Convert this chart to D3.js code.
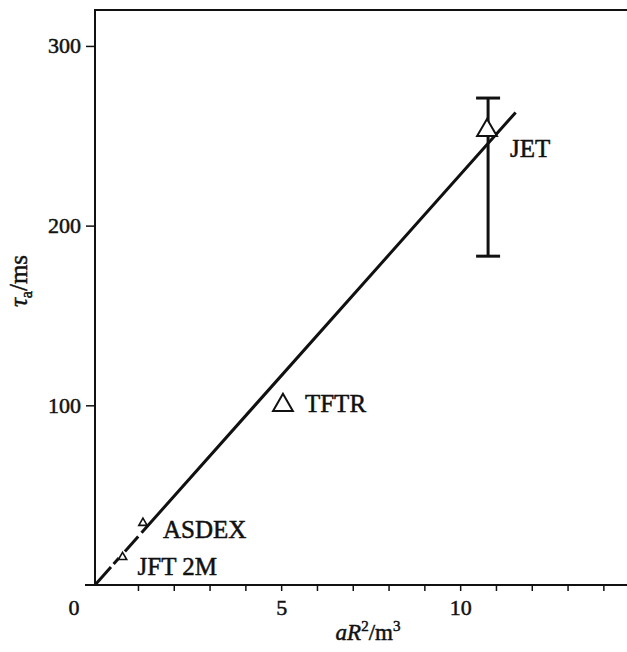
<!DOCTYPE html>
<html>
<head>
<meta charset="utf-8">
<script src="https://cdn.jsdelivr.net/npm/d3@7"></script>
<style>
  body { margin: 0; background: #fff; }
  svg { display: block; }
  text { font-family: "Liberation Serif", "DejaVu Serif", serif; fill: #111; stroke: #111; stroke-width: 0.5px; }
</style>
</head>
<body>
<svg></svg>
<script>
// machines
let names = ['JFT 2M', 'ASDEX', 'TFTR', 'JET']
let aR2 = [0.57, 1.14, 5.05, 10.75]        // m^3
let tauA = [15.5, 34.5, 100, 253]           // ms
let big = [false, false, true, true]

// JET error bar
let errX = [10.78]
let errLow = [183]
let errHigh = [271]

// fitted line ends
let fitX = [-0.2, 11.55]
let fitY = [0, 263]

let xTicks = [1, 2, 3, 4, 5, 6, 7, 8, 9, 10, 11, 12, 13, 14, 15]
let xTickLabels = [5, 10]
let yTicks = [100, 200, 300]

let width = 627
let height = 652

// label offsets (px) from the marker
let labelOffset = {
    'JFT 2M': [15, 18],
    'ASDEX': [20, 15],
    'TFTR': [22, 7],
    'JET': [23, 27]
}

let svg = d3.select('svg')
    .attr('width', width)
    .attr('height', height)

let xScale = d3.scaleLinear()
    .domain([-0.2, 15])
    .range([95, 95 + 15.2 * 35.8])

let yScale = d3.scaleLinear()
    .domain([0, 320])
    .range([585, 10])

let plotLeft = xScale(-0.2)
let plotBottom = yScale(0)
let plotTop = yScale(320)

// frame: left axis, top border, bottom axis
svg.append('path')
    .attr('d', 'M' + (width + 5) + ',' + plotTop + 'H' + plotLeft + 'V' + plotBottom)
    .attr('fill', 'none')
    .attr('stroke', '#111')
    .attr('stroke-width', 2)
svg.append('line')
    .attr('x1', plotLeft - 10).attr('x2', width + 5)
    .attr('y1', plotBottom).attr('y2', plotBottom)
    .attr('stroke', '#111')
    .attr('stroke-width', 2)

// axes
let xAxis = d3.axisBottom(xScale)
    .tickValues(xTicks)
    .tickSize(6)
    .tickPadding(8)
    .tickFormat(d => xTickLabels.includes(d) ? d : '')
let gx = svg.append('g')
    .attr('transform', 'translate(0,' + plotBottom + ')')
    .call(xAxis)
gx.select('.domain').remove()
gx.selectAll('line').attr('stroke', '#111').attr('stroke-width', 1.5)
gx.selectAll('text').style('font-size', '22px').attr('fill', '#111')

let yAxis = d3.axisLeft(yScale)
    .tickValues(yTicks)
    .tickSize(9)
    .tickPadding(5)
let gy = svg.append('g')
    .attr('transform', 'translate(' + plotLeft + ',0)')
    .call(yAxis)
gy.select('.domain').remove()
gy.selectAll('line').attr('stroke', '#111').attr('stroke-width', 1.5)
gy.selectAll('text').style('font-size', '22px').attr('fill', '#111')

// shared origin label
svg.append('text')
    .attr('x', plotLeft - 21)
    .attr('y', plotBottom + 30)
    .attr('text-anchor', 'middle')
    .style('font-size', '22px')
    .text('0')

// axis titles
let xt = svg.append('text')
    .attr('x', 368)
    .attr('y', 640)
    .attr('text-anchor', 'middle')
    .style('font-size', '23px')
xt.append('tspan').attr('font-style', 'italic').text('aR')
xt.append('tspan').attr('dy', -9).style('font-size', '15px').text('2')
xt.append('tspan').attr('dy', 9).text('/m')
xt.append('tspan').attr('dy', -9).style('font-size', '15px').text('3')

let yt = svg.append('text')
    .attr('transform', 'translate(27,281) rotate(-90)')
    .attr('text-anchor', 'middle')
    .style('font-size', '25px')
yt.append('tspan').attr('font-style', 'italic').text('τ')
yt.append('tspan').attr('dy', 5).style('font-size', '16px').text('a')
yt.append('tspan').attr('dy', -5).text('/ms')

// fitted line
svg.append('line')
    .attr('x1', xScale(fitX[0])).attr('y1', yScale(fitY[0]))
    .attr('x2', xScale(fitX[1])).attr('y2', yScale(fitY[1]))
    .attr('stroke', '#111')
    .attr('stroke-width', 3)
    .attr('stroke-dasharray', '24,4,8,9,20,5,2000')

// error bar
errX.forEach((ex, i) => {
    let g = svg.append('g').attr('stroke', '#111').attr('stroke-width', 3)
    g.append('line')
        .attr('x1', xScale(ex)).attr('x2', xScale(ex))
        .attr('y1', yScale(errLow[i])).attr('y2', yScale(errHigh[i]))
    ;[errLow[i], errHigh[i]].forEach(v => {
        g.append('line')
            .attr('x1', xScale(ex) - 12).attr('x2', xScale(ex) + 12)
            .attr('y1', yScale(v)).attr('y2', yScale(v))
    })
})

// markers
let tri = d3.symbol().type(d3.symbolTriangle)
svg.selectAll('path.pt')
    .data(names)
    .enter()
    .append('path')
    .attr('class', 'pt')
    .attr('d', (d, i) => tri.size(big[i] ? 170 : 30)())
    .attr('transform', (d, i) => 'translate(' + xScale(aR2[i]) + ',' + yScale(tauA[i]) + ')')
    .attr('fill', '#fff')
    .attr('stroke', '#111')
    .attr('stroke-width', (d, i) => big[i] ? 2 : 1.6)

svg.selectAll('text.lbl')
    .data(names)
    .enter()
    .append('text')
    .attr('class', 'lbl')
    .attr('x', (d, i) => xScale(aR2[i]) + labelOffset[d][0])
    .attr('y', (d, i) => yScale(tauA[i]) + labelOffset[d][1])
    .style('font-size', '25px')
    .text(d => d)
</script>
</body>
</html>
